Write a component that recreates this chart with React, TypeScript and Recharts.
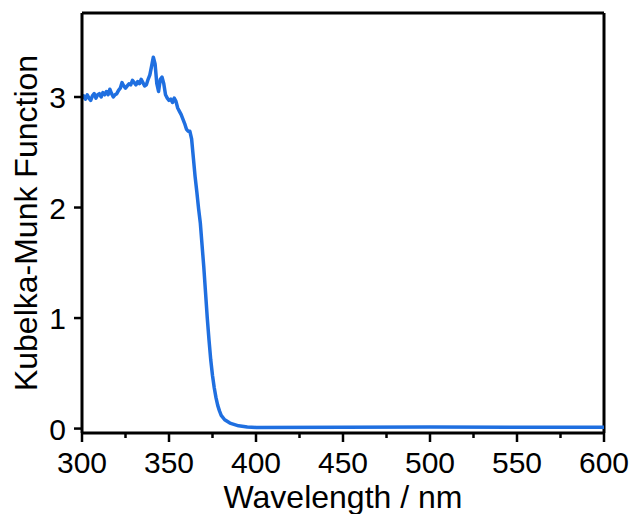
import React from 'react';
import { LineChart, Line, XAxis, YAxis, ReferenceLine } from 'recharts';

// wavelength (nm)
const wavelengths = [
  300, 301, 302, 303, 304, 305, 306, 307, 308, 309, 310, 311, 312, 313, 314, 315, 316, 317, 318, 319,
  320, 321, 322, 323, 324, 325, 326, 327, 328, 329, 330, 331, 332, 333, 334, 335, 336, 337, 338, 339,
  340, 341, 342, 343, 344, 345, 346, 347, 348, 349, 350, 351, 352, 353, 354, 355, 356, 357, 358, 359,
  360, 361, 362, 363, 364, 365, 366, 367, 368, 369, 370, 371, 372, 373, 374, 375, 376, 377, 378, 379,
  380, 382, 385, 390, 395, 400, 450, 500, 550, 600,
];

// Kubelka-Munk function values
const kmValues = [
  2.99, 3.01, 2.98, 3.02, 2.99, 2.97, 3.01, 3.03, 2.99, 3.02, 3.03, 3.0, 3.04, 3.02, 3.05, 3.02, 3.07, 3.03, 3.0, 3.02,
  3.03, 3.06, 3.08, 3.13, 3.1, 3.08, 3.1, 3.12, 3.11, 3.15, 3.13, 3.11, 3.14, 3.12, 3.16, 3.13, 3.1, 3.11, 3.16, 3.2,
  3.28, 3.36, 3.3, 3.12, 3.05, 3.16, 3.18, 3.12, 3.02, 2.99, 2.97, 2.98, 2.95, 2.99, 2.96, 2.9, 2.87, 2.84, 2.8, 2.76,
  2.71, 2.69, 2.69, 2.62, 2.45, 2.28, 2.14, 1.99, 1.86, 1.66, 1.46, 1.23, 1.0, 0.8, 0.62, 0.48, 0.37, 0.28, 0.21, 0.16,
  0.12, 0.08, 0.05, 0.025, 0.015, 0.01, 0.012, 0.014, 0.013, 0.012,
];

const xTicks = [300, 325, 350, 375, 400, 425, 450, 475, 500, 525, 550, 575, 600];
const yTicks = [0, 1, 2, 3];

const data = wavelengths.map((w, i) => ({ wl: w, km: kmValues[i] }));

const FONT = 'Liberation Sans, Arial, Helvetica, sans-serif';

const XTick = (props: any) => {
  const { x, y, payload } = props;
  const major = payload.value % 50 === 0;
  return (
    <g>
      <line x1={x} x2={x} y1={y} y2={y + (major ? 9 : 5)} stroke="#000" strokeWidth={2.5} />
      {major && (
        <text x={x} y={y + 40} textAnchor="middle" fontSize={30} fontFamily={FONT} fill="#000">
          {payload.value}
        </text>
      )}
    </g>
  );
};

const YTick = (props: any) => {
  const { x, y, payload } = props;
  return (
    <g>
      <line x1={x - 8} x2={x} y1={y} y2={y} stroke="#000" strokeWidth={2.5} />
      <text x={x - 16} y={y + 11} textAnchor="end" fontSize={30} fontFamily={FONT} fill="#000">
        {payload.value}
      </text>
    </g>
  );
};

export default function App() {
  return (
    <div style={{ position: 'absolute', left: 0, top: 0, background: '#fff' }}>
      <LineChart width={630} height={514} data={data} margin={{ top: 13, right: 26, bottom: 0, left: 0 }}>
        <XAxis
          dataKey="wl"
          type="number"
          domain={[300, 600]}
          ticks={xTicks}
          interval={0}
          height={81}
          tickSize={0}
          tickMargin={0}
          tickLine={false}
          axisLine={{ stroke: '#000', strokeWidth: 3 }}
          tick={<XTick />}
          label={{
            content: (p: any) => {
              const vb = p.viewBox;
              return (
                <text x={vb.x + vb.width / 2} y={vb.y + 75} textAnchor="middle" fontSize={32} fontFamily={FONT} fill="#000">
                  Wavelength / nm
                </text>
              );
            },
          }}
        />
        <YAxis
          type="number"
          domain={[-0.04, 3.76]}
          allowDataOverflow
          ticks={yTicks}
          interval={0}
          width={82}
          tickSize={0}
          tickMargin={0}
          tickLine={false}
          axisLine={{ stroke: '#000', strokeWidth: 3 }}
          tick={<YTick />}
          label={{
            content: (p: any) => {
              const vb = p.viewBox;
              const cy = vb.y + vb.height / 2;
              return (
                <text x={37} y={cy} transform={`rotate(-90, 37, ${cy})`} textAnchor="middle" fontSize={32} fontFamily={FONT} fill="#000">
                  Kubelka-Munk Function
                </text>
              );
            },
          }}
        />
        <ReferenceLine y={3.76} stroke="#000" strokeWidth={3} />
        <ReferenceLine x={600} stroke="#000" strokeWidth={3} />
        <Line
          type="linear"
          dataKey="km"
          stroke="#1f6fe0"
          strokeWidth={3.5}
          strokeLinejoin="round"
          dot={false}
          isAnimationActive={false}
        />
      </LineChart>
    </div>
  );
}
